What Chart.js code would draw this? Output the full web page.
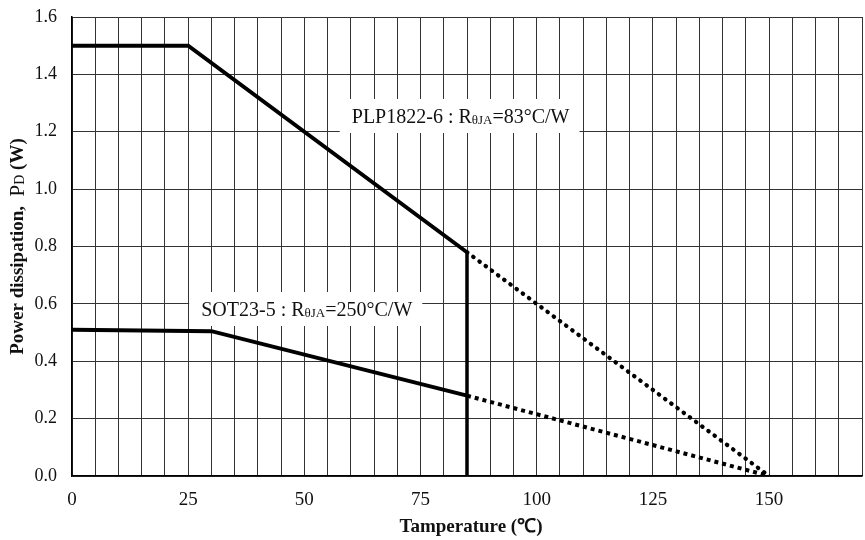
<!DOCTYPE html>
<html>
<head>
<meta charset="utf-8">
<script src="https://cdn.jsdelivr.net/npm/chart.js@4.4.1/dist/chart.umd.min.js"></script>
<style>
  html, body { margin: 0; padding: 0; background: #fff; }
  #wrap { width: 865px; height: 540px; }
</style>
</head>
<body>
<div id="wrap"><canvas id="c" width="865" height="540"></canvas></div>
<script>
// ---- data ----
const plpTemp  = [0, 25, 85, 150];
const plpPower = [1.5, 1.5, 0.78, 0];
const sotTemp  = [0, 30, 85, 150];
const sotPower = [0.51, 0.505, 0.28, 0];
const limitTemp  = [85, 85];
const limitPower = [0.78, 0];
const xTickLabels = [0, 25, 50, 75, 100, 125, 150];
const yTickLabels = ['0.0','0.2','0.4','0.6','0.8','1.0','1.2','1.4','1.6'];
const plpLabel = { main: 'PLP1822-6 : R', sub: 'θJA', tail: '=83°C/W', x: 60.2, y: 1.255 };
const sotLabel = { main: 'SOT23-5 : R', sub: 'θJA', tail: '=250°C/W', x: 27.8, y: 0.582 };
const xTitle = 'Tamperature (℃)';
const yTitle = { main: 'Power dissipation,  ', p: 'P', sub: 'D', tail: ' (W)' };

const SERIF = '"Liberation Serif", "Times New Roman", serif';
const toPts = (xs, ys) => xs.map((x, i) => ({ x: x, y: ys[i] }));

const labelPlugin = {
  id: 'labels',
  afterDatasetsDraw(chart) {
    const ctx = chart.ctx;
    const xs = chart.scales.x, ys = chart.scales.y;
    const big = '20px ' + SERIF, small = '13px ' + SERIF;
    function drawLabel(l) {
      const px = xs.getPixelForValue(l.x), py = ys.getPixelForValue(l.y);
      ctx.save();
      ctx.font = big; const w1 = ctx.measureText(l.main).width;
      const w3 = ctx.measureText(l.tail).width;
      ctx.font = small; const w2 = ctx.measureText(l.sub).width;
      const total = w1 + w2 + w3;
      ctx.fillStyle = '#fff';
      ctx.fillRect(px - 12, py - 17, total + 22, 34);
      ctx.fillStyle = '#111';
      ctx.textBaseline = 'alphabetic';
      ctx.font = big; ctx.fillText(l.main, px, py + 7);
      ctx.font = small; ctx.fillText(l.sub, px + w1, py + 8);
      ctx.font = big; ctx.fillText(l.tail, px + w1 + w2, py + 7);
      ctx.restore();
    }
    drawLabel(plpLabel);
    drawLabel(sotLabel);

    // x title
    const ca = chart.chartArea;
    ctx.save();
    ctx.font = 'bold 19px ' + SERIF;
    ctx.fillStyle = '#111';
    ctx.textAlign = 'center';
    ctx.textBaseline = 'middle';
    ctx.fillText(xTitle, (ca.left + ca.right) / 2 + 4, 527);
    ctx.restore();

    // y title with subscript
    ctx.save();
    const cy = (ca.top + ca.bottom) / 2;
    ctx.translate(18, cy);
    ctx.rotate(-Math.PI / 2);
    const fb = 'bold 19px ' + SERIF, fs = '14px ' + SERIF, fP = '21px ' + SERIF;
    ctx.font = fb; const a = ctx.measureText(yTitle.main).width;
    ctx.font = fP; const p = ctx.measureText(yTitle.p).width;
    ctx.font = fs; const b = ctx.measureText(yTitle.sub).width;
    ctx.font = fb; const c = ctx.measureText(yTitle.tail).width;
    let x0 = -(a + p + b + c) / 2;
    ctx.fillStyle = '#111';
    ctx.textBaseline = 'middle';
    ctx.font = fb; ctx.fillText(yTitle.main, x0, 0); x0 += a;
    ctx.font = fP; ctx.fillText(yTitle.p, x0, 0); x0 += p;
    ctx.font = fs; ctx.fillText(yTitle.sub, x0, 2); x0 += b;
    ctx.font = fb; ctx.fillText(yTitle.tail, x0, 0);
    ctx.restore();
  }
};

const dotted = (ctx) => ctx.p0.parsed.x >= 85;

new Chart(document.getElementById('c'), {
  type: 'line',
  data: {
    datasets: [
      {
        label: 'PLP1822-6',
        data: toPts(plpTemp, plpPower),
        borderColor: '#000',
        borderWidth: 4,
        pointRadius: 0,
        tension: 0,
        segment: {
          borderDash: c => dotted(c) ? [0.5, 7.2] : undefined,
          borderCapStyle: c => dotted(c) ? 'round' : 'butt',
          borderWidth: c => dotted(c) ? 4.2 : 4
        }
      },
      {
        label: 'SOT23-5',
        data: toPts(sotTemp, sotPower),
        borderColor: '#000',
        borderWidth: 4,
        pointRadius: 0,
        tension: 0,
        segment: {
          borderDash: c => dotted(c) ? [4, 4] : undefined,
          borderCapStyle: 'butt'
        }
      },
      {
        label: 'limit',
        data: toPts(limitTemp, limitPower),
        borderColor: '#000',
        borderWidth: 3.5,
        pointRadius: 0
      }
    ]
  },
  options: {
    responsive: false,
    animation: false,
    layout: { padding: { top: 17, right: 3, left: 0, bottom: 0 } },
    plugins: { legend: { display: false }, tooltip: { enabled: false } },
    scales: {
      x: {
        type: 'linear',
        min: 0, max: 170,
        afterFit: s => { s.height = 64; s.paddingLeft = 0; s.paddingRight = 0; },
        afterBuildTicks: s => { const t = []; for (let v = 0; v <= 170; v += 5) t.push({ value: v }); s.ticks = t; },
        border: { color: '#000', width: 1.5 },
        grid: { color: '#333', lineWidth: 1, drawTicks: false },
        ticks: {
          autoSkip: false,
          maxRotation: 0,
          padding: 13,
          color: '#111',
          font: { family: SERIF, size: 19 },
          callback: v => xTickLabels.includes(v) ? String(v) : ''
        }
      },
      y: {
        min: 0, max: 1.6,
        afterFit: s => { s.width = 72; s.paddingTop = 0; s.paddingBottom = 0; },
        afterBuildTicks: s => { s.ticks = yTickLabels.map(t => ({ value: parseFloat(t) })); },
        border: { color: '#000', width: 1.5 },
        grid: { color: '#333', lineWidth: 1, drawTicks: false },
        ticks: {
          padding: 15,
          color: '#111',
          font: { family: SERIF, size: 18 },
          callback: v => { const s = v.toFixed(1); return yTickLabels.includes(s) ? s : ''; }
        }
      }
    }
  },
  plugins: [labelPlugin]
});
</script>
</body>
</html>
